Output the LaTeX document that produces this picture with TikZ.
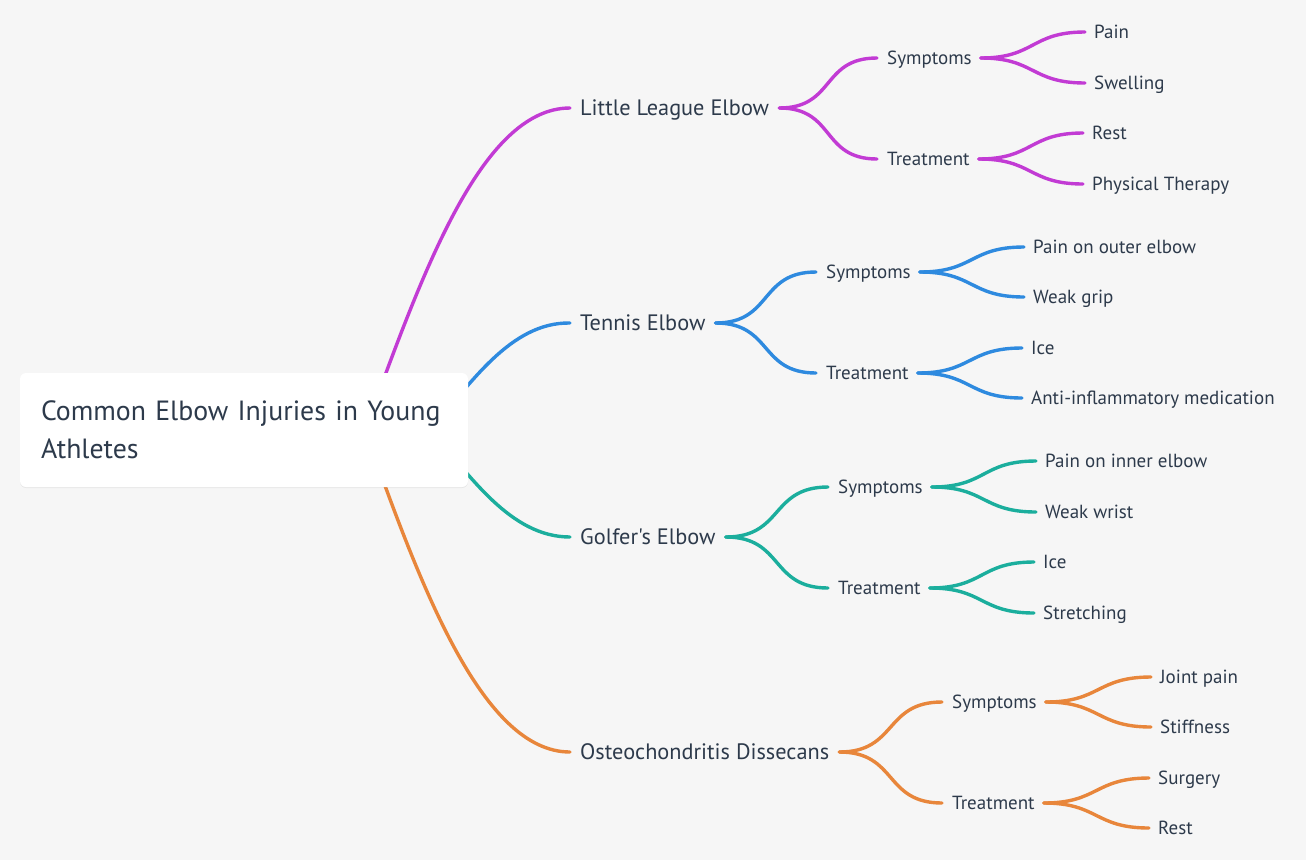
\documentclass[tikz,border=0pt]{standalone}
\usepackage{fontspec}
\setmainfont{PT Sans}[Ligatures=TeXOff]
\usetikzlibrary{shadows}
\definecolor{bg}{HTML}{F6F6F6}
\definecolor{ink}{HTML}{2D3A4B}
\definecolor{cmag}{HTML}{C23BD4}
\definecolor{cblue}{HTML}{2E8ADF}
\definecolor{cteal}{HTML}{1BAE9D}
\definecolor{corange}{HTML}{E8863B}
\begin{document}
\begin{tikzpicture}[x=1pt,y=-1pt,
  lbl/.style={anchor=west,inner sep=0pt,text=ink,text depth=0pt},
  lone/.style={lbl,text height=15pt,font=\fontsize{22.3}{26}\selectfont},
  ltwo/.style={lbl,text height=13pt,font=\fontsize{19}{22}\selectfont},
  link/.style={line width=3.4pt,line cap=round},
  sc/.style={out=0,in=180,looseness=1.3},
]
\fill[bg] (0,0) rectangle (1306,860);
\useasboundingbox (0,0) rectangle (1306,860);

% level 1
\node[lone] (ll) at (580,108) {Little League Elbow};
\node[lone] (te) at (580,323) {Tennis Elbow};
\node[lone] (ge) at (580,537) {Golfer's Elbow};
\node[lone] (od) at (580,752) {Osteochondritis Dissecans};

% level 2
\node[ltwo] (lls) at (887,58) {Symptoms};
\node[ltwo] (llt) at (887,159) {Treatment};
\node[ltwo] (tes) at (826,272) {Symptoms};
\node[ltwo] (tet) at (826,373) {Treatment};
\node[ltwo] (ges) at (838,487) {Symptoms};
\node[ltwo] (get) at (838,588) {Treatment};
\node[ltwo] (ods) at (952,702) {Symptoms};
\node[ltwo] (odt) at (952,803) {Treatment};

% level 3
\node[ltwo] (lls1) at (1094,32) {Pain};
\node[ltwo] (lls2) at (1094,83) {Swelling};
\node[ltwo] (llt1) at (1092,133) {Rest};
\node[ltwo] (llt2) at (1092,184) {Physical Therapy};
\node[ltwo] (tes1) at (1033,247) {Pain on outer elbow};
\node[ltwo] (tes2) at (1033,297) {Weak grip};
\node[ltwo] (tet1) at (1031,348) {Ice};
\node[ltwo] (tet2) at (1031,398) {Anti-inflammatory medication};
\node[ltwo] (ges1) at (1045,461) {Pain on inner elbow};
\node[ltwo] (ges2) at (1045,512) {Weak wrist};
\node[ltwo] (get1) at (1043,562) {Ice};
\node[ltwo] (get2) at (1043,613) {Stretching};
\node[ltwo] (ods1) at (1160,677) {Joint pain};
\node[ltwo] (ods2) at (1160,727) {Stiffness};
\node[ltwo] (odt1) at (1158,778) {Surgery};
\node[ltwo] (odt2) at (1158,828) {Rest};

% root connectors
\coordinate (rs) at (365,430);
\coordinate (rs2) at (430,430);
\draw[link,cmag] (rs) .. controls (420,280) and (480,108) .. ([xshift=-10pt]ll.west);
\draw[link,cblue] (rs2) .. controls (470,385) and (510,322) .. ([xshift=-10pt]te.west);
\draw[link,cteal] (rs2) .. controls (470,475) and (510,537) .. ([xshift=-10pt]ge.west);
\draw[link,corange] (rs) .. controls (420,585) and (482,752) .. ([xshift=-10pt]od.west);

% level 1 -> level 2
\foreach \p/\a/\b/\c in {ll/lls/llt/cmag, te/tes/tet/cblue, ge/ges/get/cteal, od/ods/odt/corange}{
  \draw[link,\c] ([xshift=10pt]\p.east) to[sc] ([xshift=-10pt]\a.west);
  \draw[link,\c] ([xshift=10pt]\p.east) to[sc] ([xshift=-10pt]\b.west);
}
% level 2 -> level 3
\foreach \p/\a/\b/\c in {lls/lls1/lls2/cmag, llt/llt1/llt2/cmag, tes/tes1/tes2/cblue, tet/tet1/tet2/cblue, ges/ges1/ges2/cteal, get/get1/get2/cteal, ods/ods1/ods2/corange, odt/odt1/odt2/corange}{
  \draw[link,\c] ([xshift=9pt]\p.east) to[sc] ([xshift=-9pt]\a.west);
  \draw[link,\c] ([xshift=9pt]\p.east) to[sc] ([xshift=-9pt]\b.west);
}

% root box
\node[fill=white,rounded corners=6pt,minimum width=448pt,minimum height=114pt,
  text width=406pt,align=left,inner xsep=21pt,inner ysep=0pt,text=ink,
  font=\fontsize{27.8}{38}\selectfont,
  drop shadow={shadow xshift=0pt,shadow yshift=-1pt,opacity=0.06,fill=black}]
  (root) at (244,430) {Common Elbow Injuries in Young\\Athletes};
\end{tikzpicture}
\end{document}
